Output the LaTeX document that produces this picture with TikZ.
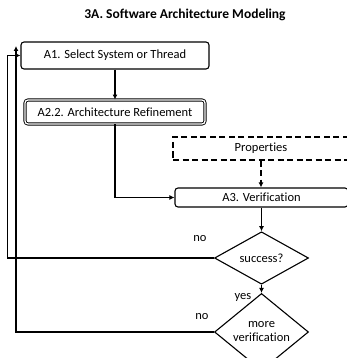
\documentclass[tikz,border=0pt]{standalone}
\usepackage{fontspec}
\setmainfont[Ligatures=NoCommon]{Carlito}
\usetikzlibrary{shapes.geometric,arrows.meta}
\tikzstyle{stepbox} = [rectangle, rounded corners=3pt, draw=black, line width=1.1pt, inner sep=0pt, font=\fontsize{12.5}{15}\selectfont]
\tikzstyle{decision} = [diamond, draw=black, line width=1.1pt, inner sep=0pt, minimum width=94pt, align=center, font=\fontsize{12.5}{15}\selectfont]
\tikzstyle{flow} = [line width=1.1pt, -{Latex[length=5pt,width=5pt]}]
\tikzstyle{lbl} = [font=\fontsize{12.5}{15}\selectfont, inner sep=0pt]
\tikzstyle{dashline} = [dash pattern=on 6pt off 3.5pt]
\newcommand{\twolines}[2]{#1\\[-1pt]#2}

\begin{document}
\begin{tikzpicture}[x=1pt, y=-1pt]%
			\useasboundingbox (0,0) rectangle (347,358);%
			\node (title) at (185,15) [font=\bfseries\fontsize{13.5}{16}\selectfont] {3A. Software Architecture Modeling};%
			% boxes
			\node [stepbox, minimum width=188pt, minimum height=27pt] (a1) at (115,55.5) {A1. Select System or Thread};%
			\node [stepbox, double, double distance=1.3pt, line width=0.9pt, minimum width=180pt, minimum height=24pt] (a22) at (115,112) {A2.2. Architecture Refinement};%
			\node [stepbox, rounded corners=0pt, dashline, minimum width=176pt, minimum height=23pt] (props) at (261,148.5) {Properties};%
			\node [stepbox, minimum width=173pt, minimum height=19pt] (a3) at (261.5,197.5) {A3. Verification};%
			% decisions
			\node [decision, minimum height=51pt] (success) at (261.5,258) {success?};%
			\node [decision, minimum height=52pt] (more) at (261.5,332) {\twolines{more}{verification}};%
			% labels
			\node [lbl] (no1) at (200,239) {no};%
			\node [lbl] (yes) at (243,297) {yes};%
			\node [lbl] (no2) at (202,317) {no};%
			\coordinate (back) at (16,46);%
			% connectors
			\draw [flow] (a1.south) -- (a22.north);%
			\draw [flow] (a22.south) |- (a3.west);%
			\draw [flow, dashline] (props.south) -- (props.south |- a3.north);%
			\draw [flow] (a3.south) -- (success.north);%
			\draw [flow] (success.south) -- (more.north);%
			\draw [flow] (success.west) -| ([xshift=-13pt]a1.west) -- (a1.west);%
			\draw [flow] (more.west) -| (back);%
		\end{tikzpicture}
\end{document}
